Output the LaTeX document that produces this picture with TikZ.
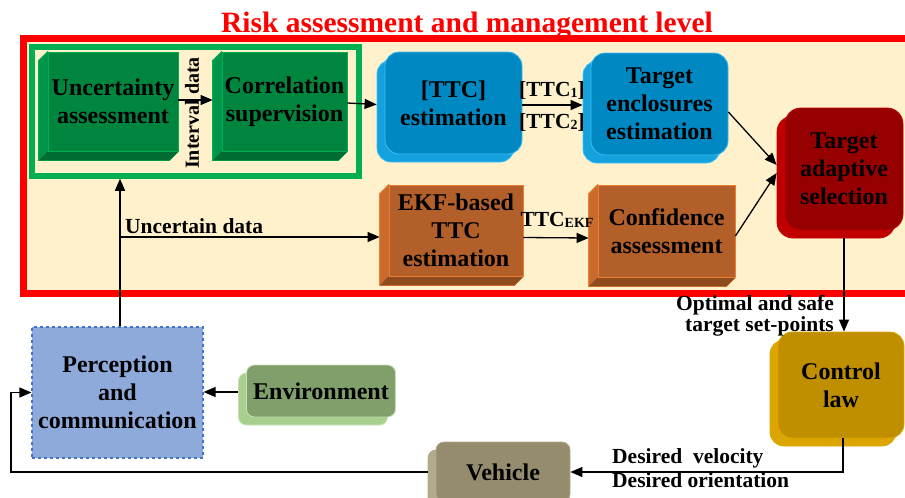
\documentclass[tikz,border=0pt]{standalone}
\usepackage{fontspec}
\setmainfont{Liberation Serif}
\usetikzlibrary{calc,positioning,backgrounds,shadows,arrows.meta}

\definecolor{beige}{HTML}{FFF1CC}
\definecolor{frame}{HTML}{FF0000}
\definecolor{grnedge}{HTML}{00B050}
\definecolor{grnfront}{HTML}{00853E}
\definecolor{grnside}{HTML}{00964A}
\definecolor{grnbot}{HTML}{006C31}
\definecolor{orgfront}{HTML}{B35F2A}
\definecolor{orgside}{HTML}{C96B2E}
\definecolor{orgbot}{HTML}{8E4B1D}
\definecolor{orgedge}{HTML}{ED7D31}
\definecolor{bluefront}{HTML}{0088C2}
\definecolor{blueback}{HTML}{14A2DE}
\definecolor{blueedge}{HTML}{3DBEF2}
\definecolor{redfront}{HTML}{960000}
\definecolor{redback}{HTML}{C00000}
\definecolor{goldfront}{HTML}{BF8F00}
\definecolor{goldback}{HTML}{DDA500}
\definecolor{envfront}{HTML}{809F6B}
\definecolor{envback}{HTML}{A9CF8E}
\definecolor{envedge}{HTML}{C5E0B4}
\definecolor{vehfront}{HTML}{958B6D}
\definecolor{vehback}{HTML}{B2AA8C}
\definecolor{percfill}{HTML}{8EAADB}
\definecolor{percdraw}{HTML}{4472C4}

\newcommand{\smallsub}[1]{\raisebox{-1.5pt}{\fontsize{14}{14}\selectfont #1}}

\tikzset{
  boxtext/.style={font=\bfseries\fontsize{24}{28}\selectfont, align=center, inner sep=0pt},
  bevel/.style 2 args={boxtext, fill=#1, draw=#2, line width=0.8pt},
  rbox/.style n args={4}{boxtext, rounded corners=#1, fill=#2, draw=#3, line width=0.8pt,
    copy shadow={shadow xshift=-8pt, shadow yshift=-8pt, fill=#4, draw=#3, opacity=1}},
  lbl/.style={font=\bfseries\fontsize{21.5}{15}\selectfont, inner sep=0pt},
  arr/.style={-{Triangle[length=12pt,width=10pt]}, line width=1.3pt},
  ln/.style={line width=1.3pt}
}

\begin{document}
\begin{tikzpicture}[x=1pt,y=1pt]
\useasboundingbox (0,0) rectangle (905,-498);

% risk level frame and the group of the two green blocks
\begin{scope}[on background layer]
  \fill[beige] (23,-38) rectangle (905,-293);
  \draw[frame, line width=7pt] (905,-38) -- (23,-38) -- (23,-293) -- (905,-293);
  \node[draw=grnedge, line width=5.5pt, minimum width=327, minimum height=129, inner sep=0pt] (grp) at (195.5,-111.5) {};
\end{scope}

\node[font=\bfseries\fontsize{29.5}{30}\selectfont, text=frame, anchor=base] (title) at (467,-32) {Risk assessment and management level};

% bevel blocks
\node[bevel={grnfront}{grnedge}, minimum width=130, minimum height=99] (unc) at (113,-101.5) {Uncertainty\\assessment};
\node[bevel={grnfront}{grnedge}, minimum width=125, minimum height=99] (cor) at (284.5,-101.5) {Correlation\\supervision};
\node[bevel={orgfront}{orgedge}, minimum width=134, minimum height=91] (ekf) at (456,-230.5) {EKF-based\\TTC\\estimation};
\node[bevel={orgfront}{orgedge}, minimum width=137, minimum height=92] (conf) at (666.5,-231) {Confidence\\assessment};

% rounded blocks
\node[rbox={14pt}{bluefront}{blueedge}{blueback}, minimum width=137, minimum height=102] (ttc) at (453.5,-103) {[TTC]\\estimation};
\node[rbox={14pt}{bluefront}{blueedge}{blueback}, minimum width=137, minimum height=102] (enc) at (659.5,-104) {Target\\enclosures\\estimation};
\node[rbox={16pt}{redfront}{redback}{redback}, minimum width=118, minimum height=122] (sel) at (844,-169) {Target\\adaptive\\selection};
\node[rbox={14pt}{goldfront}{goldback}{goldback}, minimum width=126, minimum height=106] (ctrl) at (841,-385) {Control\\law};
\node[rbox={8pt}{vehfront}{vehback}{vehback}, minimum width=134, minimum height=60] (veh) at (503,-472) {Vehicle};
\node[rbox={8pt}{envfront}{envedge}{envback}, minimum width=149, minimum height=52] (env) at (321,-391) {Environment};
\node[boxtext, fill=percfill, draw=percdraw, dashed, line width=1.2pt, minimum width=171, minimum height=131] (perc) at (117.5,-392.5) {Perception\\and\\communication};

% side faces of the bevel blocks
\begin{scope}[on background layer]
\foreach \n/\cs/\cb/\ce in {unc/grnside/grnbot/grnedge, cor/grnside/grnbot/grnedge, ekf/orgside/orgbot/orgedge, conf/orgside/orgbot/orgedge} {
  \filldraw[fill=\cs, draw=\ce, line width=0.8pt] (\n.north west) -- ++(-9,-9) -- ($(\n.south west)+(-9,-9)$) -- ($(\n.south east)+(-9,-9)$) -- (\n.south east) -- cycle;
  \fill[\cb] (\n.south west) -- ++(-9,-9) -- ($(\n.south east)+(-9,-9)$) -- (\n.south east) -- cycle;
}
\end{scope}

% connectors
\draw[arr] ([yshift=1.5pt]unc.east) -- ([xshift=-9pt,yshift=1.5pt]cor.west);
\node[lbl, font=\bfseries\fontsize{20}{20}\selectfont, rotate=90] (ivl) at (192,-113) {Interval data};
\draw[arr] ([yshift=-1.5pt]cor.east) -- ([xshift=-8pt]ttc.west |- 0,-104.5);
\draw[arr] ([yshift=-2pt]ttc.east) -- ([xshift=-8pt,yshift=-1pt]enc.west);
\node[lbl] (ttc1) at (552,-90) {[TTC\smallsub{1}]};
\node[lbl] (ttc2) at (552,-122) {[TTC\smallsub{2}]};
\draw[arr] ([yshift=-7pt]ekf.east) -- ([xshift=-9pt,yshift=-7pt]conf.west);
\node[lbl] (ttcekf) at (557,-220) {TTC\smallsub{EKF}};
\draw[arr] ([yshift=-8pt]enc.east) -- ([xshift=-8pt,yshift=4pt]sel.west);
\draw[arr] ([yshift=-5pt]conf.east) -- ([xshift=-8pt,yshift=-4pt]sel.west);

\draw[arr] ([xshift=2.5pt]perc.north) -- ([xshift=2.5pt]perc.north |- grp.south);
\coordinate (ud) at (120,-237);
\draw[arr] (ud) -- ([xshift=-9pt]ekf.west |- ud);
\node[lbl, anchor=base west] (udl) at (125,-233) {Uncertain data};

\draw[arr] ([yshift=-8pt]sel.south) -- (sel.south |- ctrl.north);
\node[lbl, align=right, anchor=east] (opt) at (834,-316) {Optimal and safe\\target set-points};

\draw[arr] ([xshift=2pt]ctrl.south) -- ([xshift=2pt]ctrl.south |- veh.east) -- (veh.east);
\node[lbl, anchor=base west] (dv) at (612,-463) {Desired\ \ velocity};
\node[lbl, anchor=base west] (dor) at (612,-487) {Desired orientation};

\coordinate (back) at (11,-472);
\draw[arr] ([xshift=-8pt]veh.west) -- (back) |- (perc.west);
\draw[arr] ([xshift=-8pt,yshift=-1pt]env.west) -- (perc.east |- 0,-392);

\end{tikzpicture}
\end{document}
